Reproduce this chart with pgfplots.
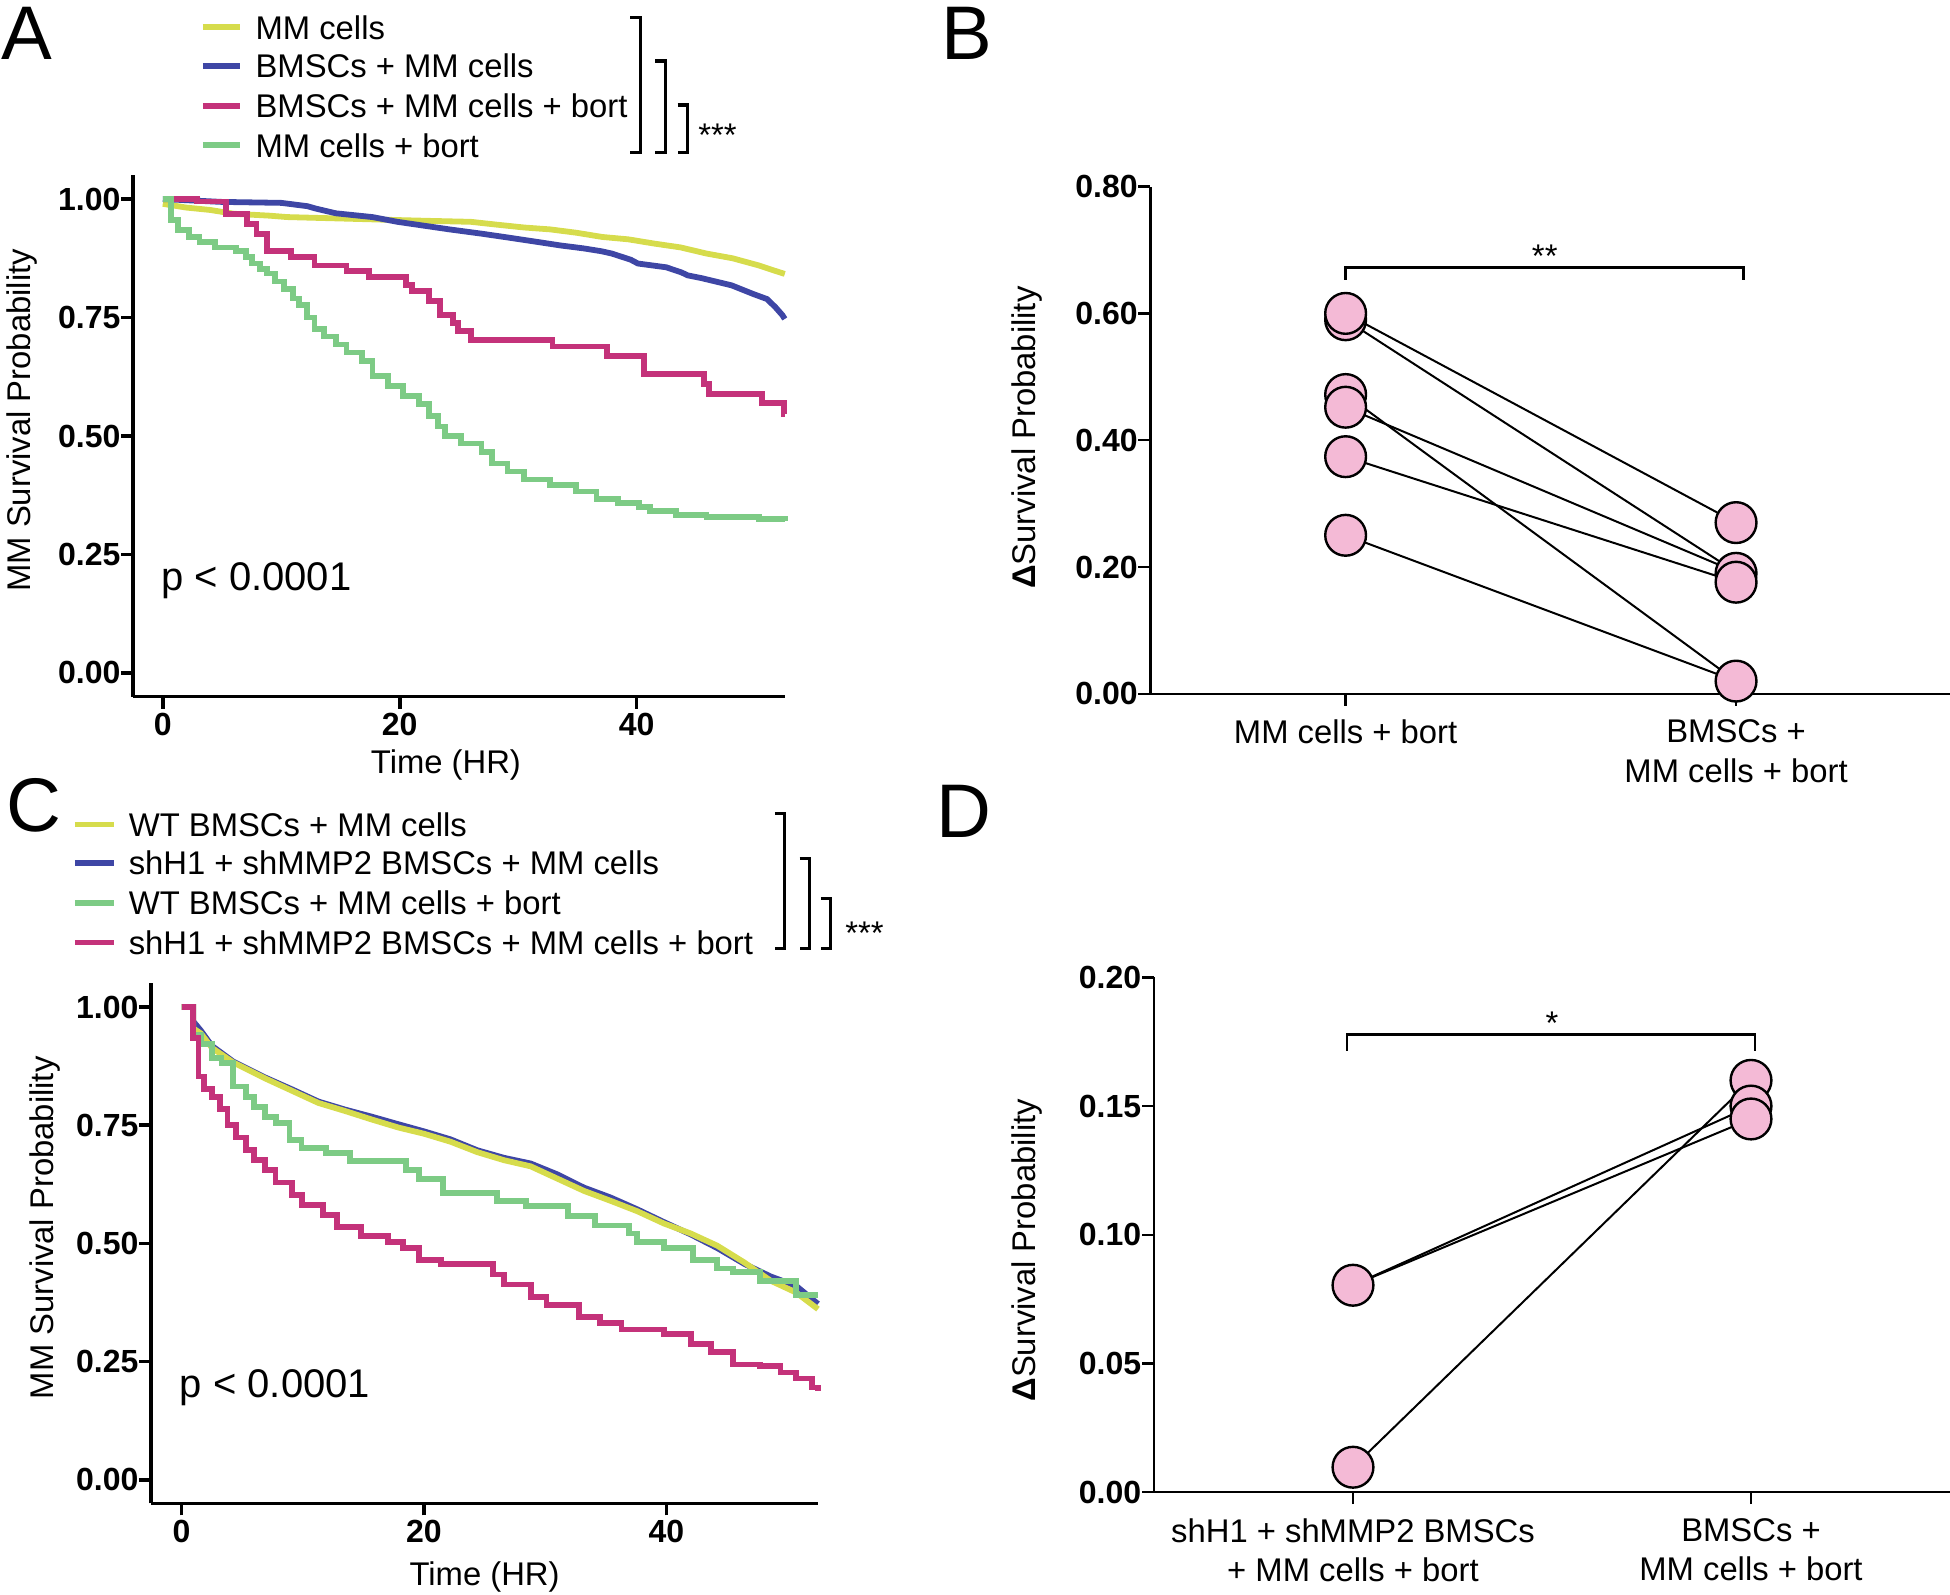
\documentclass[border=0pt]{standalone}
\usepackage{pgfplots}
\pgfplotsset{compat=1.18}
\usepackage{fontspec}
\setmainfont{Liberation Sans}
\definecolor{kmyellow}{RGB}{214,220,76}
\definecolor{kmblue}{RGB}{62,70,165}
\definecolor{kmmag}{RGB}{196,50,122}
\definecolor{kmgreen}{RGB}{125,203,133}
\definecolor{dotpink}{RGB}{244,186,214}
\newcommand{\fs}{\fontsize{8.2}{9.9}\selectfont}
\newcommand{\ft}{\fontsize{8}{9.6}\selectfont\bfseries}
\pgfplotsset{
  every axis/.append style={
    scale only axis, clip=false,
    axis x line*=bottom, axis y line*=left,
    tick align=outside, major tick length=3pt,
    tick style={black, line width=0.7pt},
    yticklabel style={font=\ft, inner sep=0pt},
    xticklabel style={font=\ft},
    label style={font=\fs},
    /pgf/number format/assume math mode=true,
  },
  km/.style={
    xmin=-2.5, xmax=52.5, ymin=-0.05, ymax=1.05,
    axis line style={line width=0.9pt,-},
    tick style={line width=0.9pt},
    xtick={0,20,40}, xticklabels={0,20,40},
    xticklabel style={inner sep=0pt, yshift=-1pt},
    ytick={0,0.25,0.5,0.75,1}, yticklabels={0.00,0.25,0.50,0.75,1.00},
    xlabel={Time (HR)}, ylabel={MM Survival Probability},
  },
  dp/.style={
    axis line style={line width=0.6pt,-},
    tick style={line width=0.6pt},
    xticklabel style={align=center, font=\fs},
    ylabel={{\bfseries Δ}Survival Probability},
  },
  ylab/.style 2 args={every axis y label/.style={at={([xshift=#1]axis description cs:0,#2)}, rotate=90, anchor=center, font=\fs}},
  xlab/.style 2 args={every axis x label/.style={at={([yshift=#2]axis description cs:#1,0)}, anchor=center, font=\fs}},
  dots/.style={only marks, mark=*, mark size=5.1pt, mark options={fill=dotpink, draw=black, line width=0.6pt}},
  pair/.style={black, line width=0.5pt, no marks},
  curve/.style={line width=1.45pt},
}
\begin{document}
\begin{tikzpicture}
\path[use as bounding box] (0,0) rectangle (487.5pt,398.75pt);
% ---------------- Panel A ----------------
\node[inner sep=0, font=\fontsize{19}{19}\selectfont] at (6.8pt,390.3pt) {A};
\foreach \y/\c/\t in {391.9/kmyellow/MM cells, 382.3/kmblue/BMSCs + MM cells, 372.3/kmmag/BMSCs + MM cells + bort, 362.4/kmgreen/MM cells + bort}{
  \draw[\c, line width=1.45pt] (50.7pt,\y pt) -- (60pt,\y pt);
  \node[anchor=base west, inner sep=0, font=\fs] at (63.7pt,\y pt-2.95pt) {\t};
}
\draw[line width=0.8pt] (157.6pt,394.4pt) -- (160.1pt,394.4pt) -- (160.1pt,360.7pt) -- (157.6pt,360.7pt);
\draw[line width=0.8pt] (163.8pt,383.5pt) -- (166.3pt,383.5pt) -- (166.3pt,360.7pt) -- (163.8pt,360.7pt);
\draw[line width=0.8pt] (169.4pt,372.5pt) -- (171.9pt,372.5pt) -- (171.9pt,360.7pt) -- (169.4pt,360.7pt);
\node[anchor=base, inner sep=0, font=\fs] at (179.4pt,362.2pt) {***};
\begin{axis}[km, ylab={-27.7pt}{0.53}, xlab={0.48}{-17.05pt}, at={(33.3pt,224.6pt)}, anchor=south west, width=162.9pt, height=130.3pt]
\addplot[kmyellow, curve] coordinates {(0,0.99) (2,0.982) (4,0.977) (6,0.969) (9,0.965) (10.5,0.962) (15,0.959) (19.4,0.956) (22.5,0.954) (26,0.952) (28.2,0.946) (30.5,0.94) (32.7,0.936) (34.9,0.929) (37.1,0.92) (39.3,0.915) (41.5,0.906) (43.7,0.898) (45.9,0.885) (48.1,0.875) (50.3,0.86) (51.5,0.85) (52.5,0.842)};
\addplot[kmblue, curve] coordinates {(0,1) (2.5,0.997) (5,0.994) (10,0.992) (12.2,0.985) (12.9,0.98) (14.6,0.97) (17.7,0.962) (19.8,0.952) (22.0,0.944) (24.2,0.936) (26.0,0.93) (26.9,0.927) (29.1,0.919) (31.5,0.91) (33.6,0.902) (35.5,0.896) (37.0,0.89) (37.9,0.885) (39.5,0.872) (40.1,0.864) (42.5,0.856) (43.8,0.845) (44.3,0.839) (45.5,0.833) (46.5,0.827) (48.0,0.818) (48.8,0.81) (49.8,0.8) (51.0,0.789) (51.7,0.772) (52.3,0.755) (52.5,0.747)};
\addplot[const plot, kmmag, curve] coordinates {(0,1) (2.9,0.995) (5.3,0.969) (7.1,0.948) (7.9,0.927) (8.8,0.89) (10.8,0.877) (12.8,0.86) (15.5,0.848) (17.4,0.835) (20.5,0.818) (21.0,0.806) (22.5,0.785) (23.4,0.756) (24.5,0.739) (24.9,0.722) (26.0,0.703) (32.9,0.689) (37.5,0.668) (40.6,0.63) (45.7,0.609) (46.1,0.588) (50.6,0.569) (52.4,0.546) (52.5,0.546)};
\addplot[const plot, kmgreen, curve] coordinates {(0,1) (0.66,0.956) (1.3,0.935) (2.2,0.92) (3.1,0.91) (4.4,0.898) (6.2,0.89) (7.0,0.878) (7.5,0.864) (8.2,0.852) (8.8,0.843) (9.5,0.826) (10.2,0.81) (11.0,0.79) (11.5,0.777) (12.2,0.75) (12.8,0.726) (13.6,0.71) (14.6,0.693) (15.5,0.676) (16.8,0.659) (17.7,0.626) (19.0,0.605) (20.3,0.584) (21.6,0.567) (22.5,0.542) (23.2,0.52) (23.8,0.50) (25.2,0.484) (26.9,0.467) (27.8,0.442) (29.1,0.425) (30.5,0.408) (32.7,0.396) (34.9,0.383) (36.6,0.367) (38.4,0.358) (40.2,0.35) (41.1,0.341) (43.3,0.333) (45.9,0.329) (50.3,0.325) (52.5,0.32)};
\node[anchor=west, inner sep=0, font=\fontsize{10}{12}\selectfont] at (axis cs:-0.2,0.195) {p < 0.0001};
\end{axis}
% ---------------- Panel B ----------------
\node[inner sep=0, font=\fontsize{19}{19}\selectfont] at (241.6pt,390.3pt) {B};
\begin{axis}[dp, ylab={-30.8pt}{0.505}, at={(287.6pt,225.3pt)}, anchor=south west, width=200.1pt, height=126.8pt,
  xmin=-0.5, xmax=1.55, ymin=0, ymax=0.8,
  xtick={0,1}, xticklabels={MM cells + bort,{BMSCs +\\MM cells + bort}},
  ytick={0,0.2,0.4,0.6,0.8}, yticklabels={0.00,0.20,0.40,0.60,0.80}]
\addplot[dots] coordinates {(0,0.59) (0,0.60) (0,0.472) (0,0.452) (0,0.374) (0,0.25) (1,0.27) (1,0.19) (1,0.176) (1,0.02)};
\addplot[pair] coordinates {(0,0.60) (1,0.27)};
\addplot[pair] coordinates {(0,0.59) (1,0.192)};
\addplot[pair] coordinates {(0,0.472) (1,0.02)};
\addplot[pair] coordinates {(0,0.452) (1,0.192)};
\addplot[pair] coordinates {(0,0.374) (1,0.176)};
\addplot[pair] coordinates {(0,0.25) (1,0.02)};
\draw[line width=0.7pt] (axis cs:0,0.653) -- (axis cs:0,0.6725) -- (axis cs:1.02,0.6725) -- (axis cs:1.02,0.653);
\node[anchor=base, inner sep=0, font=\fs] at (axis cs:0.51,0.6725) {**};
\end{axis}
% ---------------- Panel C ----------------
\node[inner sep=0, font=\fontsize{19}{19}\selectfont] at (8.4pt,197.3pt) {C};
\foreach \y/\c/\t in {192.6/kmyellow/WT BMSCs + MM cells, 183/kmblue/shH1 + shMMP2 BMSCs + MM cells, 173/kmgreen/WT BMSCs + MM cells + bort, 163.1/kmmag/shH1 + shMMP2 BMSCs + MM cells + bort}{
  \draw[\c, line width=1.45pt] (18.7pt,\y pt) -- (28.6pt,\y pt);
  \node[anchor=base west, inner sep=0, font=\fs] at (32pt,\y pt-2.95pt) {\t};
}
\draw[line width=0.8pt] (193.7pt,195.4pt) -- (196.2pt,195.4pt) -- (196.2pt,161.6pt) -- (193.7pt,161.6pt);
\draw[line width=0.8pt] (199.9pt,184.1pt) -- (202.4pt,184.1pt) -- (202.4pt,161.6pt) -- (199.9pt,161.6pt);
\draw[line width=0.8pt] (205.2pt,174.1pt) -- (207.7pt,174.1pt) -- (207.7pt,161.6pt) -- (205.2pt,161.6pt);
\node[anchor=base, inner sep=0, font=\fs] at (216.1pt,162.5pt) {***};
\begin{axis}[km, ylab={-26.6pt}{0.53}, xlab={0.5}{-18.4pt}, at={(37.8pt,22.9pt)}, anchor=south west, width=166.7pt, height=130pt]
\addplot[kmblue, curve] coordinates {(0,1) (0.96,1) (0.96,0.97) (1.6,0.95) (2.5,0.918) (4.25,0.885) (6.9,0.851) (9.1,0.826) (11.3,0.8) (13.5,0.783) (15.7,0.768) (17.9,0.752) (20.0,0.737) (22.2,0.72) (24.4,0.697) (26.6,0.681) (28.8,0.669) (31.0,0.646) (33.2,0.618) (35.4,0.597) (37.6,0.572) (39.8,0.545) (42.0,0.519) (44.2,0.49) (46.4,0.457) (48.6,0.43) (50.7,0.41) (52.5,0.372)};
\addplot[kmyellow, curve] coordinates {(0,1) (0.96,1) (0.96,0.955) (1.6,0.944) (2.5,0.914) (4.25,0.883) (6.9,0.849) (9.1,0.823) (11.3,0.797) (13.5,0.78) (15.7,0.762) (17.9,0.745) (20.0,0.732) (22.2,0.715) (24.4,0.693) (26.6,0.676) (28.8,0.663) (31.0,0.637) (33.2,0.611) (35.4,0.59) (37.6,0.568) (39.8,0.542) (42.0,0.521) (44.2,0.495) (46.4,0.46) (48.6,0.421) (50.7,0.396) (52.5,0.361)};
\addplot[const plot, kmgreen, curve] coordinates {(0,1) (0.96,0.94) (1.6,0.922) (2.5,0.892) (3.3,0.881) (4.25,0.832) (5.3,0.81) (6.0,0.788) (6.9,0.767) (7.8,0.754) (8.9,0.719) (9.9,0.702) (11.9,0.691) (13.9,0.674) (18.5,0.655) (19.6,0.637) (21.6,0.607) (26.0,0.59) (28.4,0.579) (31.9,0.558) (34.1,0.538) (36.9,0.521) (37.6,0.503) (39.8,0.49) (42.2,0.465) (44.2,0.447) (45.5,0.44) (47.7,0.421) (50.7,0.391) (52.5,0.391)};
\addplot[const plot, kmmag, curve] coordinates {(0,1) (0.96,0.935) (1.4,0.853) (1.84,0.827) (2.5,0.81) (3.16,0.784) (3.8,0.75) (4.47,0.724) (5.35,0.698) (6.0,0.676) (6.9,0.655) (7.76,0.629) (9.1,0.603) (9.96,0.581) (11.7,0.56) (12.8,0.534) (14.8,0.516) (17.0,0.503) (18.3,0.49) (19.6,0.465) (21.4,0.456) (25.7,0.434) (26.6,0.413) (28.8,0.387) (30.1,0.37) (32.8,0.344) (34.5,0.331) (36.3,0.318) (39.8,0.309) (42.0,0.288) (43.7,0.27) (45.5,0.244) (47.7,0.24) (49.4,0.227) (50.7,0.214) (52.0,0.195) (52.5,0.188)};
\node[anchor=west, inner sep=0, font=\fontsize{10}{12}\selectfont] at (axis cs:-0.2,0.195) {p < 0.0001};
\end{axis}
% ---------------- Panel D ----------------
\node[inner sep=0, font=\fontsize{19}{19}\selectfont] at (241pt,196pt) {D};
\begin{axis}[dp, ylab={-31.7pt}{0.47}, at={(288.5pt,25.7pt)}, anchor=south west, width=199pt, height=128.7pt,
  xmin=-0.5, xmax=1.5, ymin=0, ymax=0.2,
  xtick={0,1}, xticklabels={{shH1 + shMMP2 BMSCs\\+ MM cells + bort},{BMSCs +\\MM cells + bort}},
  ytick={0,0.05,0.1,0.15,0.2}, yticklabels={0.00,0.05,0.10,0.15,0.20}]
\addplot[dots] coordinates {(0,0.0804) (0,0.0097) (1,0.16) (1,0.15) (1,0.145)};
\addplot[pair] coordinates {(0,0.0804) (1,0.15)};
\addplot[pair] coordinates {(0,0.0804) (1,0.145)};
\addplot[pair] coordinates {(0,0.0097) (1,0.16)};
\draw[line width=0.7pt] (axis cs:-0.015,0.1715) -- (axis cs:-0.015,0.1778) -- (axis cs:1.01,0.1778) -- (axis cs:1.01,0.1715);
\node[anchor=base, inner sep=0, font=\fs] at (axis cs:0.5,0.1778) {*};
\end{axis}
\end{tikzpicture}
\end{document}
